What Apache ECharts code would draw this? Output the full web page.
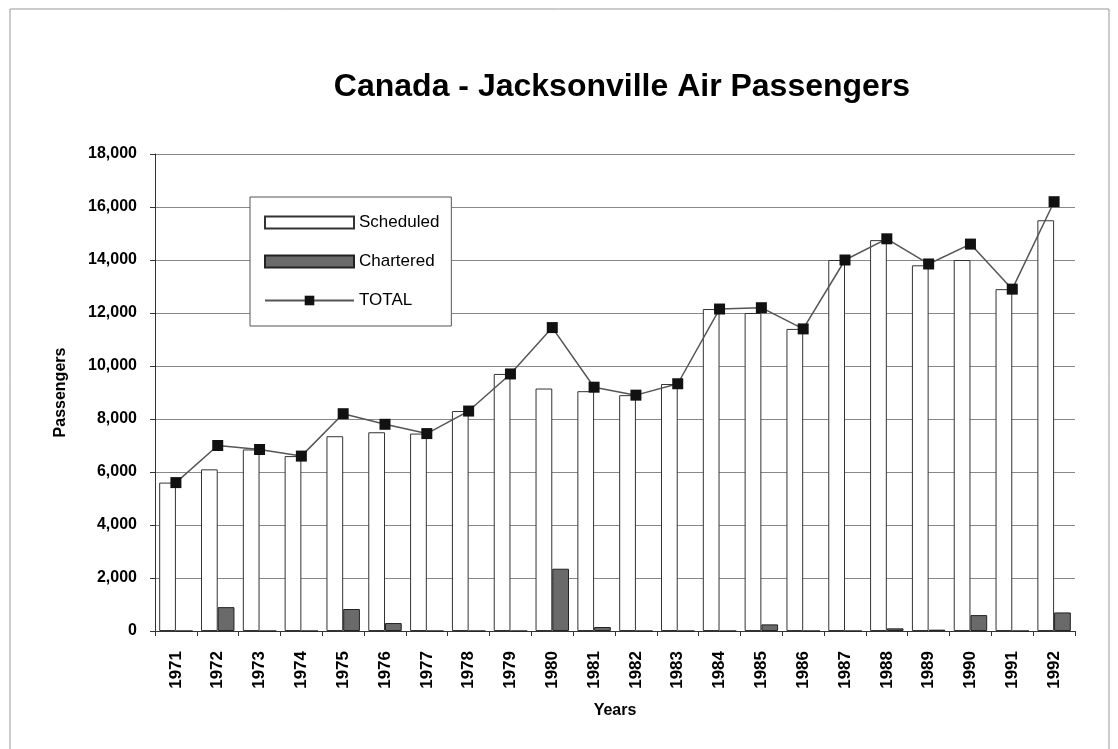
<!DOCTYPE html>
<html><head><meta charset="utf-8">
<script src="https://cdn.jsdelivr.net/npm/echarts@6/dist/echarts.min.js"></script>
<style>html,body{margin:0;padding:0;background:#fff}#c{width:1118px;height:749px}</style>
</head><body><div id="c"></div>
<script>
const years = ['1971','1972','1973','1974','1975','1976','1977','1978','1979','1980','1981','1982','1983','1984','1985','1986','1987','1988','1989','1990','1991','1992'];
const scheduled = [5600,6100,6850,6600,7350,7500,7450,8300,9700,9150,9050,8900,9320,12150,12000,11400,14000,14750,13800,14000,12900,15500];
const chartered = [0,900,0,0,830,300,0,0,0,2350,150,0,0,0,250,0,0,100,50,600,0,700];
const total = [5600,7000,6850,6600,8200,7800,7450,8300,9700,11450,9200,8900,9330,12150,12200,11400,14000,14800,13850,14600,12900,16200];
const yTicks = [0,2000,4000,6000,8000,10000,12000,14000,16000,18000];

const font = 'Arial, "Liberation Sans", sans-serif';
const chart = echarts.init(document.getElementById('c'));
chart.setOption({
  animation: false,
  backgroundColor: '#fff',
  graphic: [{type:'rect', shape:{x:10,y:9,width:1099,height:760}, style:{fill:'none', stroke:'#999', lineWidth:1}, silent:true}],
  title: {text:'Canada - Jacksonville Air Passengers', left: 617, top: 66, textAlign:'center',
    textStyle:{fontFamily:font, fontWeight:'bold', fontSize:32, color:'#000'}},
  legend: {orient:'vertical', left:250, top:197, width:212, height:130,
    padding:[17,12,17,14], itemGap:22, itemWidth:89, itemHeight:12,
    borderColor:'#555', borderWidth:1, backgroundColor:'#fff',
    textStyle:{fontFamily:font, fontSize:17, color:'#000'},
    data:[{name:'Scheduled', icon:'rect'},{name:'Chartered', icon:'rect'},{name:'TOTAL'}]},
  grid: {left:155, right:43, top:154, bottom:118, containLabel:false},
  xAxis: {type:'category', data:years, name:'Years', nameLocation:'middle', nameGap:72,
    nameTextStyle:{fontFamily:font, fontWeight:'bold', fontSize:16, color:'#000'},
    axisLine:{lineStyle:{color:'#333'}}, axisTick:{show:true, length:5, lineStyle:{color:'#333'}},
    axisLabel:{rotate:90, fontFamily:font, fontWeight:'bold', fontSize:17, color:'#000', margin:20}},
  yAxis: {type:'value', min:0, max:18000, interval:2000, name:'Passengers', nameLocation:'middle', nameGap:86,
    nameTextStyle:{fontFamily:font, fontWeight:'bold', fontSize:16, color:'#000'},
    axisLine:{show:true, lineStyle:{color:'#333'}}, axisTick:{show:true, length:5, lineStyle:{color:'#333'}},
    splitLine:{lineStyle:{color:'#888', width:1}},
    axisLabel:{fontFamily:font, fontWeight:'bold', fontSize:16, color:'#000', margin:18,
      formatter: v => yTicks.includes(v) ? v.toLocaleString('en-US') : ''}},
  series: [
    {name:'Scheduled', type:'bar', data:scheduled, barGap:'0%', barCategoryGap:'20%',
      itemStyle:{color:'#fff', borderColor:'#333', borderWidth:1}},
    {name:'Chartered', type:'bar', data:chartered,
      itemStyle:{color:'#6a6a6a', borderColor:'#222', borderWidth:1}},
    {name:'TOTAL', type:'line', data:total, symbol:'rect', symbolSize:11,
      lineStyle:{color:'#555', width:1.5}, itemStyle:{color:'#111'}}
  ]
});
</script></body></html>
